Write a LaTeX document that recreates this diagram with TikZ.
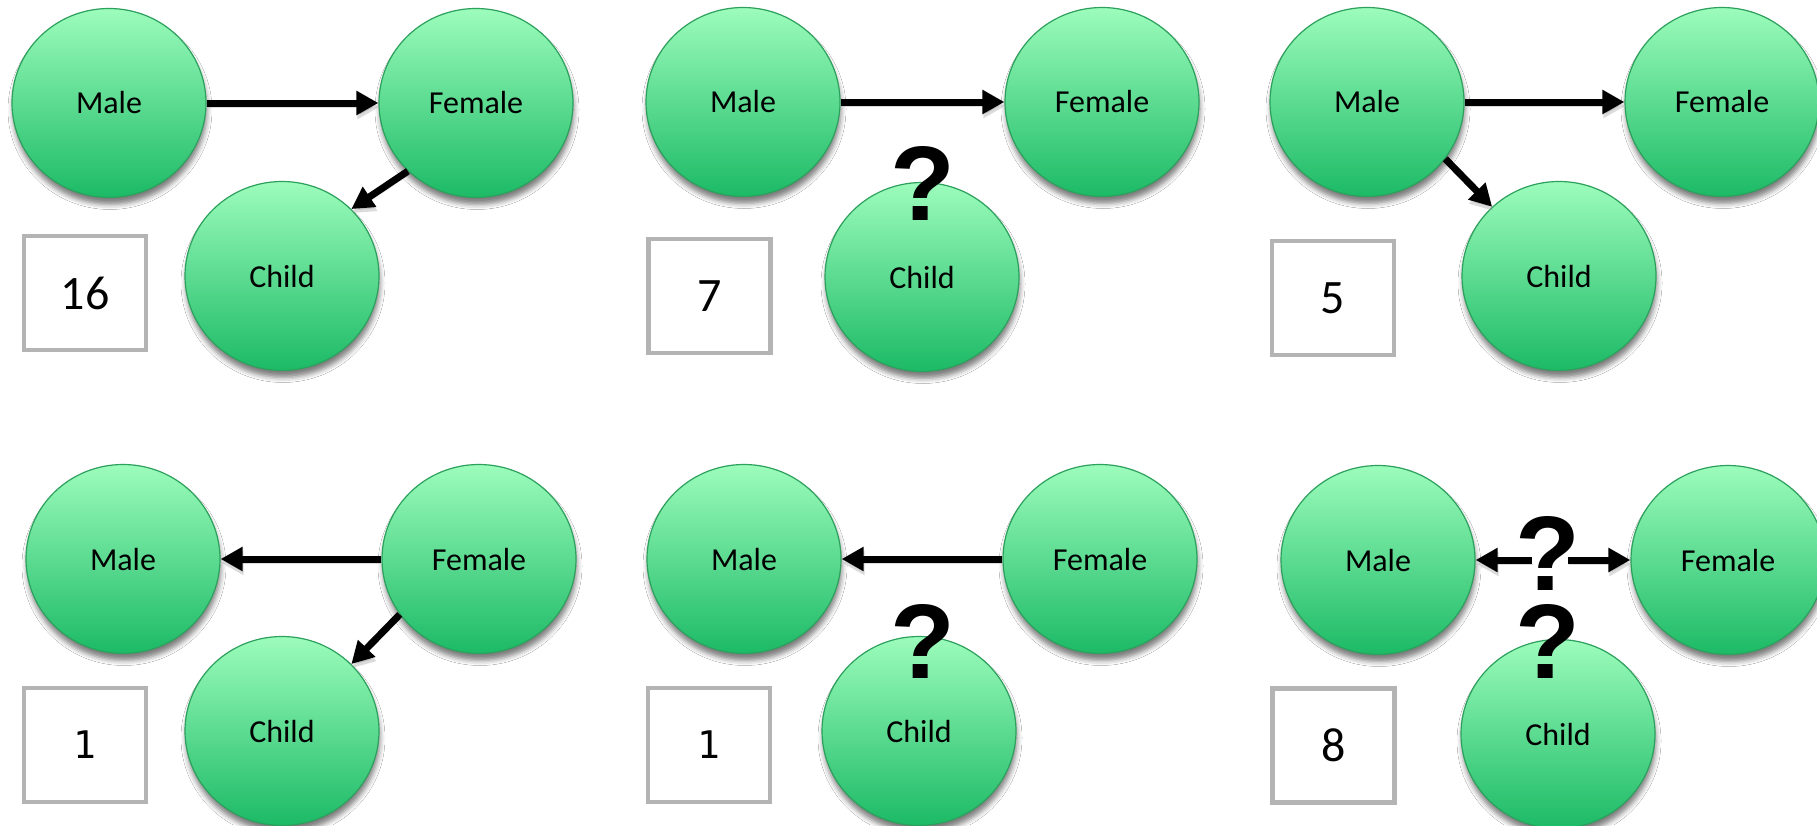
\documentclass[tikz,border=0pt]{standalone}
\usepackage{fontspec}
\setmainfont{Carlito}
\newfontfamily\qmarkfont{Liberation Sans}
\newfontfamily\digitmono{DejaVu Sans Mono}
\usetikzlibrary{arrows.meta,shapes.geometric,shadows.blur}

\definecolor{gtop}{RGB}{156,252,188}
\definecolor{gbot}{RGB}{28,186,102}
\definecolor{gedge}{RGB}{44,160,92}
\definecolor{boxgray}{RGB}{180,180,180}

\tikzset{
  person/.style={ellipse, minimum width=194pt, minimum height=189pt, inner sep=0pt,
    draw=gedge, line width=1.2pt, top color=gtop, bottom color=gbot,
    font=\fontsize{32}{36}\selectfont,
    blur shadow={shadow xshift=1pt, shadow yshift=-7pt, shadow blur radius=5pt, shadow opacity=50}},
  countbox/.style={draw=boxgray, line width=4.5pt, fill=white, minimum width=122pt,
    minimum height=114pt, inner sep=0pt, font=\fontsize{48}{52}\selectfont},
  monobox/.style={countbox, font=\digitmono\fontsize{38}{42}\selectfont},
  qmark/.style={font=\qmarkfont\bfseries\fontsize{106}{108}\selectfont, inner sep=0pt},
  link/.style={line width=7pt, -{Triangle[length=22pt,width=23pt]},
    preaction={draw=black!40, opacity=0.35, transform canvas={xshift=1pt,yshift=-4pt}}},
}

\begin{document}
\begin{tikzpicture}[x=1pt,y=-1pt]
\fill[white] (0,0) rectangle (1817,825);
\useasboundingbox (0,0) rectangle (1817,825);

% top left: Male -> Female -> Child
\node[person] (m1) at (109,103) {Male};
\node[person] (f1) at (476,103) {Female};
\node[person] (c1) at (282,276) {Child};
\node[countbox] (n1) at (85,293) {\raisebox{-4pt}{16}};
\draw[link] (m1) -- (f1);
\draw[link] (f1.225) -- (c1.44);

% top middle: Male -> Female, child unknown
\node[person] (m2) at (743,102) {Male};
\node[person] (f2) at (1102,102) {Female};
\node[person] (c2) at (922,277) {Child};
\node[countbox] (n2) at (709.5,296) {\raisebox{-4pt}{7}};
\draw[link] (m2) -- (f2);
\node[qmark] (q2) at (923,183) {?};

% top right: Male -> Female, Male -> Child
\node[person] (m3) at (1367,102) {Male};
\node[person] (f3) at (1722,102) {Female};
\node[person] (c3) at (1559,276) {Child};
\node[countbox] (n3) at (1333,298) {\raisebox{-4pt}{5}};
\draw[link] (m3) -- (f3);
\draw[link] (m3.324) -- (c3.134);

% bottom left: Female -> Male, Female -> Child
\node[person] (m4) at (123,559) {Male};
\node[person] (f4) at (479,559) {Female};
\node[person] (c4) at (282,731) {Child};
\node[monobox] (n4) at (85,745) {\raisebox{-4pt}{1}};
\draw[link] (f4) -- (m4);
\draw[link] (f4.215) -- (c4.44);

% bottom middle: Female -> Male, child unknown
\node[person] (m5) at (744,559) {Male};
\node[person] (f5) at (1100,559) {Female};
\node[person] (c5) at (919,731) {Child};
\node[monobox] (n5) at (709,745) {\raisebox{-4pt}{1}};
\draw[link] (f5) -- (m5);
\node[qmark] (q5) at (923,641) {?};

% bottom right: direction and child both unknown
\node[person] (m6) at (1378,560) {Male};
\node[person] (f6) at (1728,560) {Female};
\node[person] (c6) at (1558,734) {Child};
\node[countbox] (n6) at (1333.5,745.5) {\raisebox{-4pt}{8}};
\coordinate (q6l) at (1532,560);
\coordinate (q6r) at (1568,560);
\draw[link] (q6l) -- (m6);
\draw[link] (q6r) -- (f6);
\node[qmark] (q6a) at (1548,553) {?};
\node[qmark] (q6b) at (1548,641) {?};
\end{tikzpicture}
\end{document}
